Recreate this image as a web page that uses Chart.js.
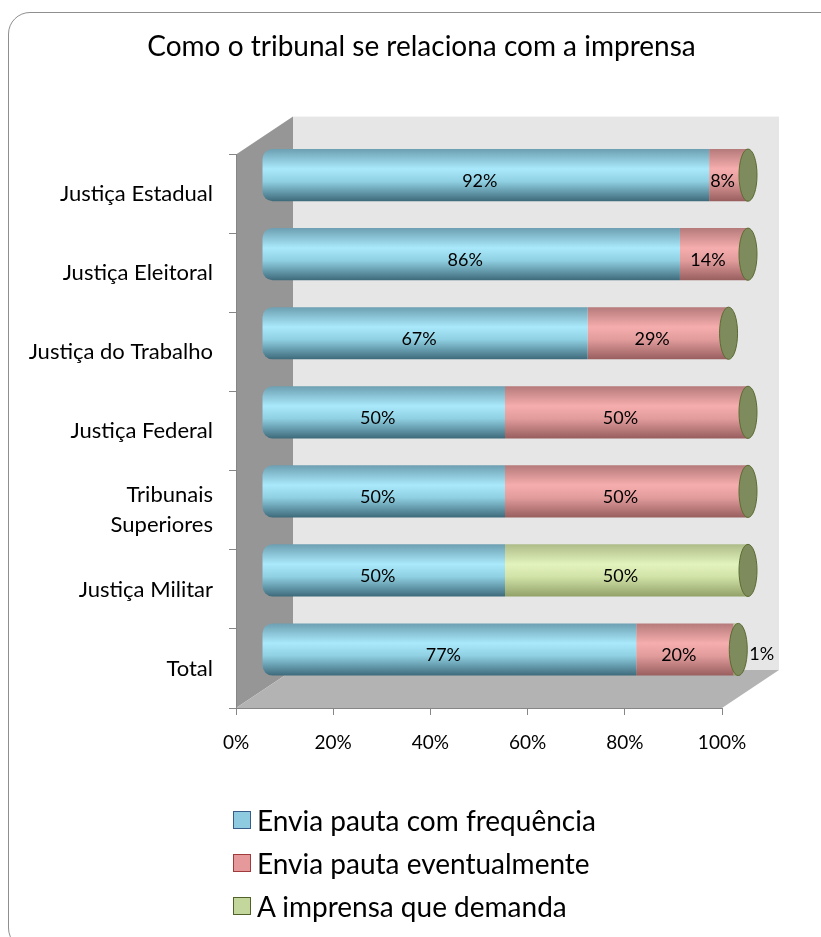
<!DOCTYPE html>
<html>
<head>
<meta charset="utf-8">
<script src="https://cdn.jsdelivr.net/npm/chart.js@4.4.1/dist/chart.umd.min.js"></script>
<style>
body { margin: 0; background: #fff; overflow: hidden; }
#frame { position: absolute; left: 8px; top: 12px; width: 850px; height: 936px; border: 1.5px solid #8f8f8f; border-radius: 22px; }
#wrap { position: absolute; left: 0; top: 0; width: 821px; height: 937px; }
#legend { position: absolute; left: 233px; top: 798px; font-family: Lato, sans-serif; font-size: 28px; color: #000; }
#legend .item { height: 43px; display: flex; align-items: center; }
#legend .sw { width: 18px; height: 18px; border: 1.5px solid; margin-right: 6px; box-sizing: border-box; }
</style>
</head>
<body>
<div id="frame"></div>
<div id="wrap"><canvas id="grafico" width="821" height="937"></canvas></div>
<div id="legend"></div>
<script>
var categorias = ['Justiça Estadual', 'Justiça Eleitoral', 'Justiça do Trabalho', 'Justiça Federal', ['Tribunais', 'Superiores'], 'Justiça Militar', 'Total'];
var series = ['Envia pauta com frequência', 'Envia pauta eventualmente', 'A imprensa que demanda'];
var frequencia = [92, 86, 67, 50, 50, 50, 77];
var eventualmente = [8, 14, 29, 50, 50, 0, 20];
var demanda = [0, 0, 0, 0, 0, 50, 1];
var ticksX = [0, 20, 40, 60, 80, 100];

// profundidade do "3D": paredes e deslocamento das barras
var PX = 57, PY = -38;
var DX = 26, DY = -19;
var ESPESSURA = 0.66;

var cores = [
    { stops: ['#6c9fb1', '#a9e9fb', '#8fd0e2', '#3e6a7b'], sw: '#8fcbe0', borda: '#385d8a' },
    { stops: ['#b57a7a', '#f6adad', '#e29c9c', '#985e5e'], sw: '#e6999a', borda: '#a13a3a' },
    { stops: ['#adbc88', '#e3f3bd', '#d2e3a8', '#91a168'], sw: '#c3d69b', borda: '#4f6228' }
];

function cilindro(c) {
    return function(context) {
        var chart = context.chart;
        if (!chart.chartArea || context.dataIndex === undefined) return c.stops[1];
        var y = chart.scales.y;
        var yc = y.getPixelForValue(context.dataIndex);
        var h = y.height / categorias.length * ESPESSURA / 2;
        var g = chart.ctx.createLinearGradient(0, yc - h, 0, yc + h);
        g.addColorStop(0, c.stops[0]);
        g.addColorStop(0.38, c.stops[1]);
        g.addColorStop(0.62, c.stops[2]);
        g.addColorStop(1, c.stops[3]);
        return g;
    };
}

var paredes = {
    id: 'paredes',
    beforeDraw: function(chart) {
        var a = chart.chartArea, ctx = chart.ctx;
        ctx.save();
        ctx.fillStyle = '#e6e6e6';
        ctx.fillRect(a.left + PX, a.top + PY, a.right - a.left, a.bottom - a.top);
        ctx.fillStyle = '#969696';
        ctx.beginPath();
        ctx.moveTo(a.left, a.top);
        ctx.lineTo(a.left + PX, a.top + PY);
        ctx.lineTo(a.left + PX, a.bottom + PY);
        ctx.lineTo(a.left, a.bottom);
        ctx.closePath();
        ctx.fill();
        ctx.fillStyle = '#b3b3b3';
        ctx.beginPath();
        ctx.moveTo(a.left, a.bottom);
        ctx.lineTo(a.right, a.bottom);
        ctx.lineTo(a.right + PX, a.bottom + PY);
        ctx.lineTo(a.left + PX, a.bottom + PY);
        ctx.closePath();
        ctx.fill();
        ctx.restore();
    },
    beforeDatasetsDraw: function(chart) {
        chart.ctx.save();
        chart.ctx.translate(DX, DY);
    },
    afterDatasetsDraw: function(chart) {
        var ctx = chart.ctx;
        var h = chart.scales.y.height / categorias.length * ESPESSURA / 2;
        // tampa do cilindro
        chart.getDatasetMeta(2).data.forEach(function(el) {
            ctx.beginPath();
            ctx.ellipse(el.x, el.y, 9, h, 0, 0, Math.PI * 2);
            ctx.fillStyle = '#7e8b5c';
            ctx.fill();
            ctx.lineWidth = 1;
            ctx.strokeStyle = '#5c6b34';
            ctx.stroke();
        });
        // rótulos
        ctx.font = '18px Lato';
        ctx.fillStyle = '#000';
        ctx.textBaseline = 'middle';
        chart.data.datasets.forEach(function(ds, d) {
            chart.getDatasetMeta(d).data.forEach(function(el, i) {
                var v = ds.data[i];
                if (!v) return;
                if (v < 3) {
                    ctx.textAlign = 'left';
                    ctx.fillText(v + '%', el.x + 11, el.y + 5);
                } else {
                    ctx.textAlign = 'center';
                    ctx.fillText(v + '%', (el.x + el.base) / 2 - 6, el.y + 6);
                }
            });
        });
        ctx.restore();
    }
};

var datasets = [frequencia, eventualmente, demanda].map(function(d, k) {
    return {
        label: series[k],
        data: d,
        backgroundColor: cilindro(cores[k]),
        borderWidth: 0,
        borderSkipped: false,
        borderRadius: k === 0 ? { topLeft: 10, bottomLeft: 10, topRight: 0, bottomRight: 0 } : 0,
        barPercentage: ESPESSURA,
        categoryPercentage: 1,
        clip: false
    };
});

var config = {
    type: 'bar',
    data: { labels: categorias, datasets: datasets },
    options: {
        indexAxis: 'y',
        responsive: false,
        animation: false,
        layout: { padding: { top: 20, right: 0, bottom: 169, left: 22 } },
        scales: {
            x: {
                stacked: true,
                min: 0,
                max: 100,
                afterBuildTicks: function(s) { s.ticks = ticksX.map(function(v) { return { value: v }; }); },
                afterFit: function(s) { s.height = 60; },
                ticks: { color: '#000', padding: 16, font: { family: 'Lato', size: 19 }, callback: function(v) { return v + '%'; } },
                grid: { drawOnChartArea: false, tickLength: 7, color: '#868686' },
                border: { color: '#868686' }
            },
            y: {
                stacked: true,
                afterFit: function(s) { s.width = 214; },
                ticks: { color: '#000', padding: 16, font: { family: 'Lato', size: 22, lineHeight: 1.36 } },
                grid: { drawOnChartArea: false, tickLength: 7, color: '#868686' },
                border: { color: '#868686' }
            },
            margem: {
                type: 'linear',
                position: 'right',
                afterFit: function(s) { s.width = 99; },
                ticks: { display: false },
                grid: { display: false },
                border: { display: false }
            }
        },
        plugins: {
            legend: { display: false },
            tooltip: { enabled: false },
            title: {
                display: true,
                text: 'Como o tribunal se relaciona com a imprensa',
                color: '#000',
                font: { family: 'Lato', size: 28, weight: 'normal' },
                padding: { top: 10, bottom: 91 }
            }
        }
    },
    plugins: [paredes]
};

var myChart = new Chart(document.querySelector('#grafico').getContext('2d'), config);

var legenda = document.querySelector('#legend');
series.forEach(function(s, k) {
    var item = document.createElement('div');
    item.className = 'item';
    var sw = document.createElement('span');
    sw.className = 'sw';
    sw.style.background = cores[k].sw;
    sw.style.borderColor = cores[k].borda;
    item.appendChild(sw);
    item.appendChild(document.createTextNode(s));
    legenda.appendChild(item);
});
</script>
</body>
</html>
